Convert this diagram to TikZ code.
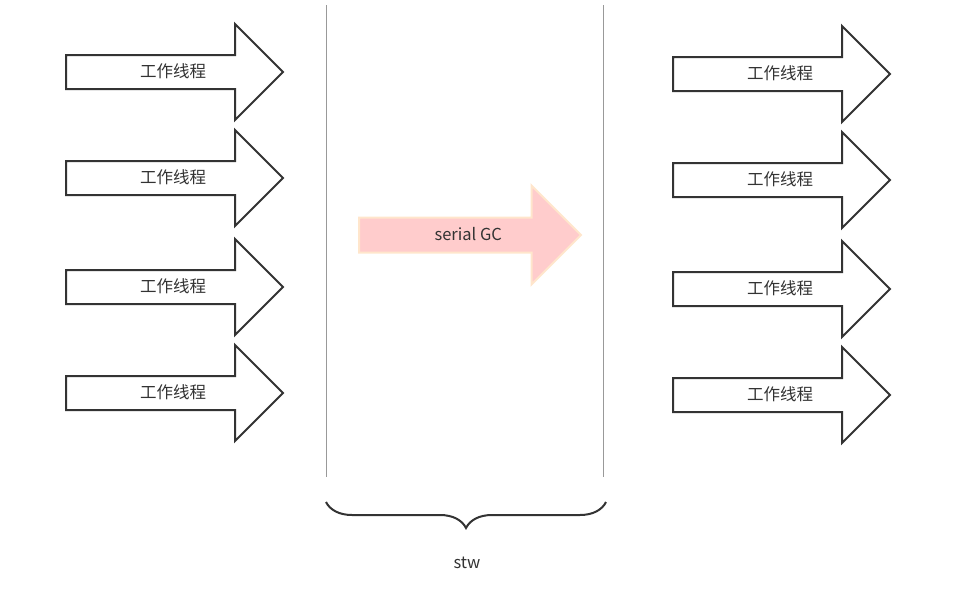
\documentclass[tikz,border=0pt]{standalone}
\usepackage{fontspec}
\setmainfont{Noto Sans CJK SC}
\usetikzlibrary{shapes.arrows, decorations.pathreplacing}
\definecolor{ink}{HTML}{333333}
\definecolor{gcfill}{HTML}{FFCCCC}
\definecolor{gcline}{HTML}{FFE6CC}
\tikzstyle{worker}=[single arrow, draw=ink, line width=2pt, fill=white,
  minimum height=217pt, single arrow head extend=31pt,
  text height=13pt, text depth=2pt, inner ysep=8.5pt, inner xsep=0pt,
  font=\fontsize{16.5}{19}\selectfont, text=ink, anchor=tail,
  execute at begin node=\hspace*{14pt}]
\tikzstyle{pause}=[draw=gray!80, line width=1pt]

\begin{document}
\begin{tikzpicture}[x=1pt, y=-1pt]
    \useasboundingbox (0,0) rectangle (957,589);
    % threads before and after the pause
    \foreach \n/\y in {1/72, 2/178, 3/287, 4/393}
      \node[worker] (lw\n) at (65,\y) {工作线程};
    \foreach \n/\y in {1/74, 2/180, 3/289, 4/395}
      \node[worker] (rw\n) at (672,\y) {工作线程};
    % the collector
    \node[worker, draw=gcline, fill=gcfill, minimum height=222pt,
      single arrow head extend=32pt, inner ysep=9pt] (gc) at (358,235) {serial GC};
    % pause window
    \coordinate (p1a) at (326,5);
    \coordinate (p1b) at (326,477);
    \coordinate (p2a) at (603,5);
    \coordinate (p2b) at (603,477);
    \draw[pause] (p1a) -- (p1b);
    \draw[pause] (p2a) -- (p2b);
    \coordinate (bl) at (326,502);
    \coordinate (br) at (606,502);
    \draw[ink, line width=2pt, decorate, decoration={brace, amplitude=26pt, mirror}] (bl) -- (br);
    \node[font=\fontsize{16.5}{19}\selectfont, text=ink] (stw) at (467,563) {stw};
\end{tikzpicture}
\end{document}
